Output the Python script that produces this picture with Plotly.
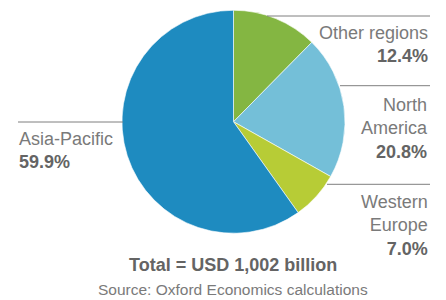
import plotly.graph_objects as go

regions = ["Other regions", "North America", "Western Europe", "Asia-Pacific"]
label_lines = [["Other regions"], ["North", "America"], ["Western", "Europe"], ["Asia-Pacific"]]
shares = [12.4, 20.8, 7.0, 59.9]
colors = ["#84b642", "#74bfd8", "#b7cc36", "#1e8bc0"]
total_text = "Total = USD 1,002 billion"
source_text = "Source: Oxford Economics calculations"

# page body has an 8px margin; size the figure to the visible area
OFF = 8
W, H = 446 - OFF, 300 - OFF
FONT = "Liberation Sans, Arial, sans-serif"
LIGHT = "#7a7a7a"
DARK = "#646464"


def px(x):
    return (x - OFF) / W


def py(y):
    return 1 - (y - OFF) / H


fig = go.Figure(go.Pie(
    labels=regions,
    values=shares,
    sort=False,
    direction="clockwise",
    rotation=0,
    textinfo="none",
    hoverinfo="label+percent",
    marker=dict(colors=colors, line=dict(color="white", width=0.6)),
    domain=dict(x=[px(122), px(345)], y=[py(233.5), py(10)]),
    showlegend=False,
))

# leader lines (decoration)
leaders = [
    (267, 16, 430, 16),
    (340, 85.7, 430, 85.7),
    (327, 184.3, 430, 184.3),
    (18, 122, 123, 122),
]
shapes = [dict(type="line", xref="paper", yref="paper",
               x0=px(a), y0=py(b), x1=px(c), y1=py(d),
               line=dict(color="#7f7f7f", width=1)) for a, b, c, d in leaders]

label_pos = [(430, 44.5, "right"), (430, 128, "right"), (430, 225, "right"), (17, 150.5, "left")]
annotations = []
for lines, val, (x, y, anchor) in zip(label_lines, shares, label_pos):
    txt = "<br>".join(lines) + f"<br><b><span style='color:{DARK}'>{val:.1f}%</span></b>"
    annotations.append(dict(
        text=txt, xref="paper", yref="paper", x=px(x), y=py(y),
        xanchor=anchor, yanchor="middle", align=anchor, showarrow=False,
        font=dict(family=FONT, size=18, color=LIGHT),
    ))

annotations.append(dict(
    text=f"<b>{total_text}</b>", xref="paper", yref="paper", x=px(233), y=py(265),
    xanchor="center", yanchor="middle", showarrow=False,
    font=dict(family=FONT, size=18, color=DARK),
))
annotations.append(dict(
    text=source_text, xref="paper", yref="paper", x=px(233), y=py(289),
    xanchor="center", yanchor="middle", showarrow=False,
    font=dict(family=FONT, size=15.5, color=LIGHT),
))

fig.update_layout(
    width=W, height=H,
    margin=dict(l=0, r=0, t=0, b=0),
    paper_bgcolor="white",
    plot_bgcolor="white",
    shapes=shapes,
    annotations=annotations,
)

fig.write_html("out.html", config={"displayModeBar": False})
